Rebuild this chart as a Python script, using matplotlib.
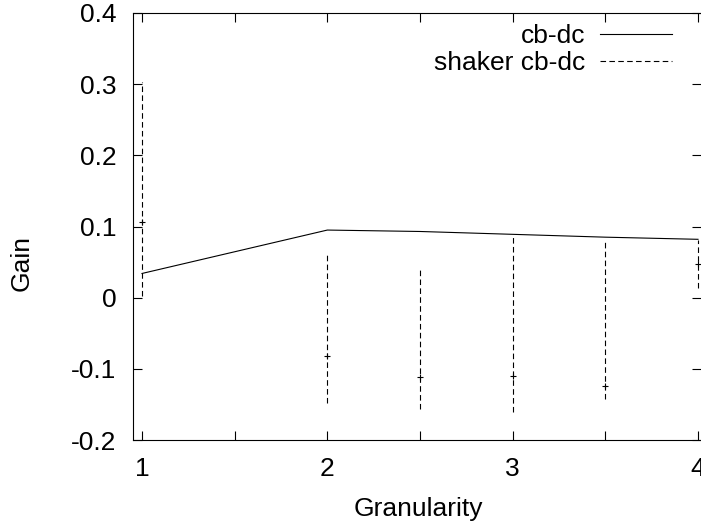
import matplotlib
matplotlib.use("Agg")
import matplotlib.pyplot as plt
import numpy as np

plt.rcParams['font.family'] = ['Liberation Sans', 'DejaVu Sans']

# cb-dc line
gran = [1, 2, 2.5, 3, 3.5, 4]
gain = [0.034, 0.095, 0.093, 0.089, 0.085, 0.082]

# shaker cb-dc error bars
sh_x = [1, 2, 2.5, 3, 3.5, 4]
sh_mid = [0.106, -0.082, -0.112, -0.110, -0.124, 0.048]
sh_low = [0.003, -0.148, -0.157, -0.160, -0.143, 0.014]
sh_high = [0.303, 0.064, 0.043, 0.085, 0.078, 0.081]

W, H = 701, 525
fig = plt.figure(figsize=(W / 100, H / 100), dpi=100)
# plot box in pixels: left 133, right 701, top 13, bottom 440
ax = fig.add_axes([133 / W, 1 - 440 / H, (701 - 133) / W, (440 - 13) / H])

fs = 19
dash = (0, (5, 3))

ax.plot(gran, gain, color='black', lw=0.8, label='cb-dc', clip_on=False)

mid = np.array(sh_mid)
yerr = [mid - np.array(sh_low), np.array(sh_high) - mid]
eb = ax.errorbar(sh_x, sh_mid, yerr=yerr, fmt='none', ecolor='black',
                 elinewidth=0.8, capsize=0)
for c in eb[2]:
    c.set_linestyle(dash)
ax.plot(sh_x, sh_mid, '+', color='black', ms=4, mew=0.8)
ax.plot([], [], color='black', lw=0.8, ls=dash, label='shaker cb-dc')

ax.set_xlim(1 - 9 / 185.3, 4 + 3 / 185.3)
ax.set_ylim(-0.2, 0.4)
ax.set_xticks([1, 2, 3, 4])
ax.set_xticklabels(['1', '2', '3', '4'])
ax.set_xticks([1.5, 2.5, 3.5], minor=True)
ax.set_yticks([-0.2, -0.1, 0, 0.1, 0.2, 0.3, 0.4])
ax.set_yticklabels(['-0.2', '-0.1', '0', '0.1', '0.2', '0.3', '0.4'])
ax.tick_params(which='both', direction='in', length=6.5, width=0.8,
               top=True, right=True, labelsize=fs, pad=12)

for s in ax.spines.values():
    s.set_linewidth(0.8)
ax.spines['right'].set_visible(False)

fig.text(418 / W, 1 - 516 / H, 'Granularity', fontsize=fs,
         ha='center', va='baseline')
fig.text(22 / W, 1 - 263 / H, 'Gain', fontsize=fs, rotation=90,
         ha='center', va='center')

leg = ax.legend(loc='upper right', frameon=False, fontsize=fs, markerfirst=False,
                handlelength=2.73, handletextpad=0.57, borderpad=0,
                borderaxespad=0, labelspacing=0.13,
                bbox_to_anchor=(672 / W, 1 - 24 / H),
                bbox_transform=fig.transFigure)
for t in leg.get_texts():
    t.set_ha('right')

fig.savefig('out.png', dpi=100)
